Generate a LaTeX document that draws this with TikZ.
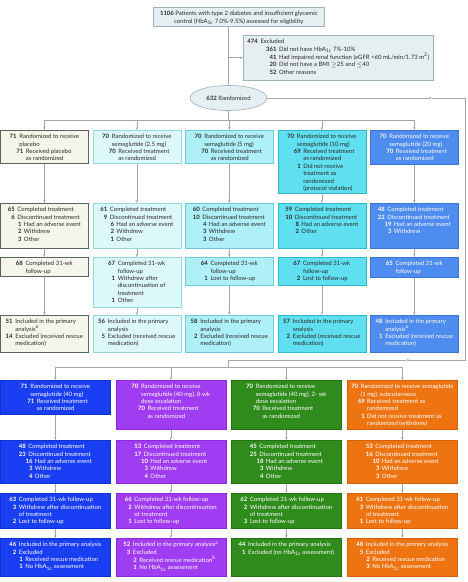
\documentclass[tikz,border=0pt]{standalone}
\usepackage{fontspec}
\setmainfont{Lato}
\usepackage{xcolor}
\usepackage{tikz}
\usetikzlibrary{shapes.geometric,arrows.meta}

\definecolor{lineg}{HTML}{A6A6A6}
\definecolor{txt}{HTML}{2B2B2B}
\definecolor{infofill}{HTML}{E5EEF1}
\definecolor{infodraw}{HTML}{9DB1B8}
\definecolor{placfill}{HTML}{F6F5EB}
\definecolor{placdraw}{HTML}{56665A}
\definecolor{mgafill}{HTML}{DDF8FB}
\definecolor{mgadraw}{HTML}{95D8E4}
\definecolor{mgbfill}{HTML}{AEEFF8}
\definecolor{mgbdraw}{HTML}{6ACCDC}
\definecolor{mgcfill}{HTML}{5FDFEF}
\definecolor{mgcdraw}{HTML}{2FB5C8}
\definecolor{mgdfill}{HTML}{4E8CEF}
\definecolor{mgddraw}{HTML}{3C74D6}
\definecolor{oafill}{HTML}{1A3EF4}
\definecolor{oadraw}{HTML}{1230D0}
\definecolor{obfill}{HTML}{A03CF2}
\definecolor{obdraw}{HTML}{8A2AD8}
\definecolor{ocfill}{HTML}{2F8B1B}
\definecolor{ocdraw}{HTML}{247012}
\definecolor{odfill}{HTML}{EE7412}
\definecolor{oddraw}{HTML}{D46008}

\newcommand{\nbw}{4bp}
\newcommand{\na}[2]{\textbf{#1} & \multicolumn{2}{@{}l@{}}{#2}\\}
\newcommand{\ca}[1]{& \multicolumn{2}{@{}l@{}}{#1}\\}
\newcommand{\nb}[2]{& \makebox[\nbw][r]{\textbf{#1}} & #2\\}
\newcommand{\cb}[1]{& & #1\\}
\newcommand{\bx}[3]{\parbox[c][\dimexpr#2bp-6bp\relax][t]{#1bp}{\centering
  \begin{tabular}[t]{@{}r@{\hspace{2.7bp}}l@{\hspace{2.5bp}}l@{}}#3\end{tabular}\par}}
\newcommand{\hba}{HbA\textsubscript{1c}}

\tikzset{box/.style={draw,rectangle,inner xsep=0pt,inner ysep=3bp,anchor=north west,line width=0.6bp,font=\fontsize{6}{7.5}\selectfont,text=txt},
  info/.style={box,fill=infofill,draw=infodraw},
  plac/.style={box,fill=placfill,draw=placdraw},
  mga/.style={box,fill=mgafill,draw=mgadraw},
  mgb/.style={box,fill=mgbfill,draw=mgbdraw},
  mgc/.style={box,fill=mgcfill,draw=mgcdraw},
  mgd/.style={box,fill=mgdfill,draw=mgddraw,text=white},
  oa/.style={box,fill=oafill,draw=oadraw,text=white},
  ob/.style={box,fill=obfill,draw=obdraw,text=white},
  oc/.style={box,fill=ocfill,draw=ocdraw,text=white},
  od/.style={box,fill=odfill,draw=oddraw,text=white},
  rnd/.style={ellipse,draw=infodraw,fill=infofill,line width=0.6bp,minimum width=77bp,minimum height=25bp,inner sep=0pt,font=\fontsize{6}{7.5}\selectfont,text=txt},
  lin/.style={draw=lineg,line width=0.6bp}}

\begin{document}
\begin{tikzpicture}[>={Stealth[length=3bp,width=2.4bp]},x=1bp,y=-1bp]
    \useasboundingbox (0,0) rectangle (468,582);

    % screening
    \node[info] (top) at (153,7) {\bx{171}{19}{\multicolumn{3}{@{}c@{}}{\textbf{1106} Patients with type 2 diabetes and insufficient glycemic}\\
        \multicolumn{3}{@{}c@{}}{control (\hba{} 7.0\%-9.5\%) assessed for eligibility}\\}};
    \node[info] (ex) at (243,35) {\renewcommand{\nbw}{16bp}\bx{190}{45}{\na{474}{Excluded}
        \nb{361}{Did not have \hba{} 7\%-10\%}
        \nb{41}{Had impaired renal function (eGFR <60 mL/min/1.73 m\textsuperscript{2})}
        \nb{20}{Did not have a BMI $\geq$25 and $\leq$40}
        \nb{52}{Other reasons}}};
    \node[rnd] (r) at (228.5,98) {\textbf{632} Randomized};

    % first group
    \node[plac] (p1) at (0,130) {\bx{88}{33}{\na{71}{Randomized to receive}\ca{placebo}\nb{71}{Received placebo}\cb{as randomized}}};
    \node[mga] (a1) at (92.5,130) {\bx{88}{33}{\na{70}{Randomized to receive}\ca{semaglutide (2.5 mg)}\nb{70}{Received treatment}\cb{as randomized}}};
    \node[mgb] (b1) at (185,130) {\bx{88}{33}{\na{70}{Randomized to receive}\ca{semaglutide (5 mg)}\nb{70}{Received treatment}\cb{as randomized}}};
    \node[mgc] (c1) at (277.5,130) {\bx{88}{63}{\na{70}{Randomized to receive}\ca{semaglutide (10 mg)}\nb{69}{Received treatment}\cb{as randomized}
        \nb{1}{Did not receive}\cb{treatment as}\cb{randomized}\cb{(protocol violation)}}};
    \node[mgd] (d1) at (370,130) {\bx{88}{34}{\na{70}{Randomized to receive}\ca{semaglutide (20 mg)}\nb{70}{Received treatment}\cb{as randomized}}};

    \node[plac] (p2) at (0,203) {\bx{88}{45}{\na{65}{Completed treatment}\na{6}{Discontinued treatment}\nb{1}{Had an adverse event}\nb{2}{Withdrew}\nb{3}{Other}}};
    \node[mga] (a2) at (92.5,203) {\bx{88}{45}{\na{61}{Completed treatment}\na{9}{Discontinued treatment}\nb{6}{Had an adverse event}\nb{2}{Withdrew}\nb{1}{Other}}};
    \node[mgb] (b2) at (185,203) {\bx{88}{45}{\na{60}{Completed treatment}\na{10}{Discontinued treatment}\nb{4}{Had an adverse event}\nb{3}{Withdrew}\nb{3}{Other}}};
    \node[mgc] (c2) at (277.5,203) {\bx{88}{45}{\na{59}{Completed treatment}\na{10}{Discontinued treatment}\nb{8}{Had an adverse event}\nb{2}{Other}}};
    \node[mgd] (d2) at (370,203) {\bx{88}{45}{\na{48}{Completed treatment}\na{22}{Discontinued treatment}\nb{19}{Had an adverse event}\nb{3}{Withdrew}}};

    \node[plac] (p3) at (0,257) {\bx{88}{19}{\na{68}{Completed 31-wk}\ca{follow-up}}};
    \node[mga] (a3) at (92.5,257) {\bx{88}{50}{\na{67}{Completed 31-wk}\ca{follow-up}\na{1}{Withdrew after}\ca{discontinuation of}\ca{treatment}\na{1}{Other}}};
    \node[mgb] (b3) at (185,257) {\bx{88}{28}{\na{64}{Completed 31-wk}\ca{follow-up}\na{1}{Lost to follow-up}}};
    \node[mgc] (c3) at (277.5,257) {\bx{88}{28}{\na{67}{Completed 31-wk}\ca{follow-up}\na{2}{Lost to follow-up}}};
    \node[mgd] (d3) at (370,257) {\bx{88}{20}{\na{65}{Completed 31-wk}\ca{follow-up}}};

    \node[plac] (p4) at (0,315) {\bx{88}{37}{\na{51}{Included in the primary}\ca{analysis\textsuperscript{a}}\na{14}{Excluded (received rescue}\ca{medication)}}};
    \node[mga] (a4) at (92.5,315) {\bx{88}{37}{\na{56}{Included in the primary}\ca{analysis}\na{5}{Excluded (received rescue}\ca{medication)}}};
    \node[mgb] (b4) at (185,315) {\bx{88}{37}{\na{58}{Included in the primary}\ca{analysis}\na{2}{Excluded (received rescue}\ca{medication)}}};
    \node[mgc] (c4) at (277.5,315) {\bx{88}{37}{\na{57}{Included in the primary}\ca{analysis}\na{2}{Excluded (received rescue}\ca{medication)}}};
    \node[mgd] (d4) at (370,315) {\bx{88}{37}{\na{48}{Included in the primary}\ca{analysis\textsuperscript{a}}\na{1}{Excluded (received rescue}\ca{medication)}}};

    % second group
    \node[oa] (e1) at (0,380) {\bx{110}{34}{\na{71}{Randomized to receive}\ca{semaglutide (40 mg)}\nb{71}{Received treatment}\cb{as randomized}}};
    \node[ob] (f1) at (115.5,380) {\bx{110}{49}{\na{70}{Randomized to receive}\ca{semaglutide (40 mg), 8-wk}\ca{dose escalation}\nb{70}{Received treatment}\cb{as randomized}}};
    \node[oc] (g1) at (231,380) {\bx{110}{49}{\na{70}{Randomized to receive}\ca{semaglutide (40 mg), 2- wk}\ca{dose escalation}\nb{70}{Received treatment}\cb{as randomized}}};
    \node[od] (h1) at (347,380) {\bx{110}{49}{\na{70}{Randomized to receive semaglutide}\ca{(1 mg), subcutaneous}\nb{69}{Received treatment as}\cb{randomized}
        \nb{1}{Did not receive treatment as}\cb{randomized (withdrew)}}};

    \node[oa] (e2) at (0,440) {\bx{110}{43}{\na{48}{Completed treatment}\na{23}{Discontinued treatment}\nb{16}{Had an adverse event}\nb{3}{Withdrew}\nb{4}{Other}}};
    \node[ob] (f2) at (115.5,440) {\bx{110}{43}{\na{53}{Completed treatment}\na{17}{Discontinued treatment}\nb{10}{Had an adverse event}\nb{3}{Withdrew}\nb{4}{Other}}};
    \node[oc] (g2) at (231,440) {\bx{110}{43}{\na{45}{Completed treatment}\na{25}{Discontinued treatment}\nb{18}{Had an adverse event}\nb{3}{Withdrew}\nb{4}{Other}}};
    \node[od] (h2) at (347,440) {\bx{110}{43}{\na{53}{Completed treatment}\na{16}{Discontinued treatment}\nb{10}{Had an adverse event}\nb{3}{Withdrew}\nb{3}{Other}}};

    \node[oa] (e3) at (0,493) {\bx{110}{35}{\na{63}{Completed 31-wk follow-up}\na{3}{Withdrew after discontinuation}\ca{of treatment}\na{2}{Lost to follow-up}}};
    \node[ob] (f3) at (115.5,493) {\bx{110}{35}{\na{66}{Completed 31-wk follow-up}\na{2}{Withdrew after discontinuation}\ca{of treatment}\na{1}{Lost to follow-up}}};
    \node[oc] (g3) at (231,493) {\bx{110}{35}{\na{62}{Completed 31-wk follow-up}\na{2}{Withdrew after discontinuation}\ca{of treatment}\na{3}{Lost to follow-up}}};
    \node[od] (h3) at (347,493) {\bx{110}{35}{\na{61}{Completed 31-wk follow-up}\na{3}{Withdrew after discontinuation}\ca{of treatment}\na{1}{Lost to follow-up}}};

    \node[oa] (e4) at (0,538) {\bx{110}{38}{\na{46}{Included in the primary analysis}\na{2}{Excluded}\nb{1}{Received rescue medication}\nb{1}{No \hba{} assessment}}};
    \node[ob] (f4) at (115.5,538) {\bx{110}{38}{\na{52}{Included in the primary analysis\textsuperscript{a}}\na{3}{Excluded}\nb{2}{Received rescue medication\textsuperscript{b}}\nb{1}{No \hba{} assessment}}};
    \node[oc] (g4) at (231,538) {\bx{110}{38}{\na{44}{Included in the primary analysis}\na{1}{Excluded (no \hba{} assessment)}}};
    \node[od] (h4) at (347,538) {\bx{110}{38}{\na{48}{Included in the primary analysis}\na{5}{Excluded}\nb{2}{Received rescue medication}\nb{3}{No \hba{} assessment}}};

    % connectors
    \coordinate (bar) at (0,120);
    \coordinate (bar2) at (0,367);
    \coordinate (k1) at (432,98);
    \coordinate (k2) at (465,98);
    \coordinate (k3) at (465,360);
    \coordinate (k4) at (406,360);
    \coordinate (k5) at (228.5,360);

    \draw [lin] (top.south -| r.north) to [] (r.north);
    \draw [lin,->] (ex.west -| r.north) to [] (ex.west);
    \draw [lin] (r.south) to [] (r.south |- bar);
    \draw [lin] (p1.north |- bar) to [] (d1.north |- bar);
    \draw [lin,->] (p1.north |- bar) to [] (p1.north);
    \draw [lin,->] (a1.north |- bar) to [] (a1.north);
    \draw [lin,->] (b1.north |- bar) to [] (b1.north);
    \draw [lin,->] (c1.north |- bar) to [] (c1.north);
    \draw [lin,->] (d1.north |- bar) to [] (d1.north);

    \draw [lin,->] (p1) to [] (p2);
    \draw [lin,->] (p2) to [] (p3);
    \draw [lin,->] (p3) to [] (p4);
    \draw [lin,->] (a1) to [] (a2);
    \draw [lin,->] (a2) to [] (a3);
    \draw [lin,->] (a3) to [] (a4);
    \draw [lin,->] (b1) to [] (b2);
    \draw [lin,->] (b2) to [] (b3);
    \draw [lin,->] (b3) to [] (b4);
    \draw [lin,->] (c1) to [] (c2);
    \draw [lin,->] (c2) to [] (c3);
    \draw [lin,->] (c3) to [] (c4);
    \draw [lin,->] (d1) to [] (d2);
    \draw [lin,->] (d2) to [] (d3);
    \draw [lin,->] (d3) to [] (d4);

    \draw [lin,->] (r.east) to [] (k1);
    \draw [lin,->] (k1) -- (k2) -- (k3) -- (k4);
    \draw [lin] (k4) -- (k5) -- (k5 |- bar2);
    \draw [lin] (e1.north |- bar2) to [] (h1.north |- bar2);
    \draw [lin,->] (e1.north |- bar2) to [] (e1.north);
    \draw [lin,->] (f1.north |- bar2) to [] (f1.north);
    \draw [lin,->] (g1.north |- bar2) to [] (g1.north);
    \draw [lin,->] (h1.north |- bar2) to [] (h1.north);

    \draw [lin,->] (e1) to [] (e2);
    \draw [lin,->] (e2) to [] (e3);
    \draw [lin,->] (e3) to [] (e4);
    \draw [lin,->] (f1) to [] (f2);
    \draw [lin,->] (f2) to [] (f3);
    \draw [lin,->] (f3) to [] (f4);
    \draw [lin,->] (g1) to [] (g2);
    \draw [lin,->] (g2) to [] (g3);
    \draw [lin,->] (g3) to [] (g4);
    \draw [lin,->] (h1) to [] (h2);
    \draw [lin,->] (h2) to [] (h3);
    \draw [lin,->] (h3) to [] (h4);
\end{tikzpicture}
\end{document}
